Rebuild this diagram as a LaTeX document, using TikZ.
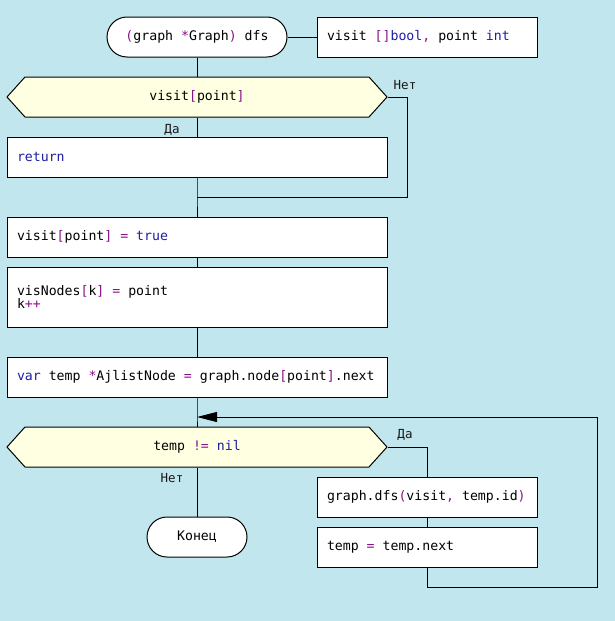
\documentclass[tikz,border=0pt]{standalone}
\usepackage{fontspec}
\usetikzlibrary{arrows.meta}
\newfontfamily\codefont{DejaVu Sans Mono}
\definecolor{bgblue}{RGB}{194,230,238}
\definecolor{condfill}{RGB}{255,255,225}
\definecolor{kwblue}{RGB}{30,30,165}
\definecolor{oppurple}{RGB}{135,20,135}
\definecolor{labelgray}{RGB}{25,25,25}
\newcommand\kwd[1]{\textcolor{kwblue}{#1}}
\newcommand\opr[1]{\textcolor{oppurple}{#1}}
\newcommand\codesize[1]{\codefont\fontsize{#1}{13.5}\selectfont\frenchspacing}
\tikzset{
  every node/.style={font=\codesize{13.2}, inner sep=0pt},
  flow/.style={draw=black, line width=1pt},
  action/.style={flow, fill=white, minimum height=40pt, inner xsep=10pt, align=flush left},
  terminal/.style={flow, fill=white, rounded corners=20pt, minimum height=40pt},
  cond/.style={minimum width=380pt, minimum height=40pt},
  hexa/.style={flow, fill=condfill},
  branch/.style={text=labelgray, font=\codesize{12.5}},
}
\begin{document}
\begin{tikzpicture}[x=1pt, y=-1pt, line width=1pt]
  \fill[bgblue] (0,0) rectangle (615,621);
  \useasboundingbox (0,0) rectangle (615,621);

  % header
  \node[terminal, minimum width=180pt] (start) at (197,37)
    {\opr{(}graph \opr{*}Graph\opr{)} dfs};
  \node[action, text width=200pt] (params) at (427,37)
    {visit \opr{[]}\kwd{bool}\opr{,} point \kwd{int}};

  % first check
  \filldraw[hexa] (7,97) -- (25,77) -- (369,77) -- (387,97) -- (369,117) -- (25,117) -- cycle;
  \node[cond] (c1) at (197,97) {visit\opr{[}point\opr{]}};
  \node[action, text width=360pt] (ret) at (197,157) {\kwd{return}};
  \coordinate (j1) at (197,197);
  \coordinate (nb1) at (407,197);

  \node[action, text width=360pt] (set) at (197,237)
    {visit\opr{[}point\opr{]} \opr{=} \kwd{true}};
  \node[action, text width=360pt, minimum height=60pt] (vis) at (197,297)
    {visNodes\opr{[}k\opr{]} \opr{=} point\\k\opr{++}};
  \node[action, text width=360pt] (tmp) at (197,377)
    {\kwd{var} temp \opr{*}AjlistNode \opr{=} graph.node\opr{[}point\opr{]}.next};

  % loop
  \coordinate (m2) at (197,417);
  \filldraw[hexa] (7,447) -- (25,427) -- (369,427) -- (387,447) -- (369,467) -- (25,467) -- cycle;
  \node[cond] (c2) at (197,447) {temp \opr{!=} \kwd{nil}};
  \node[action, text width=200pt] (call) at (427,497)
    {graph.dfs\opr{(}visit\opr{,} temp.id\opr{)}};
  \node[action, text width=200pt] (next) at (427,547)
    {temp \opr{=} temp.next};
  \coordinate (lb) at (597,587);
  \coordinate (lt) at (597,417);

  \node[terminal, minimum width=100pt] (stop) at (197,537) {Конец};

  % branch labels
  \node[branch] (l1no) at (405,85) {Нет};
  \node[branch] (l1yes) at (172,130) {Да};
  \node[branch] (l2yes) at (405,435) {Да};
  \node[branch] (l2no) at (172,478) {Нет};

  % connectors
  \draw[flow] (start.east) -- (params.west);
  \draw[flow] (start.south) -- (c1.north);
  \draw[flow] (c1.south) -- (ret.north);
  \draw[flow] (ret.south) -- (j1) -- (set.north);
  \draw[flow] (c1.east) -| (nb1) -- (j1);
  \draw[flow] (set.south) -- (vis.north);
  \draw[flow] (vis.south) -- (tmp.north);
  \draw[flow] (tmp.south) -- (m2) -- (c2.north);
  \draw[flow] (c2.south) -- (stop.north);
  \draw[flow] (c2.east) -| (call.north);
  \draw[flow] (call.south) -- (next.north);
  \draw[flow] (next.south) |- (lb) -- (lt);
  \draw[flow, -{Triangle[length=20pt, width=10pt]}] (lt) -- (m2);
\end{tikzpicture}
\end{document}
